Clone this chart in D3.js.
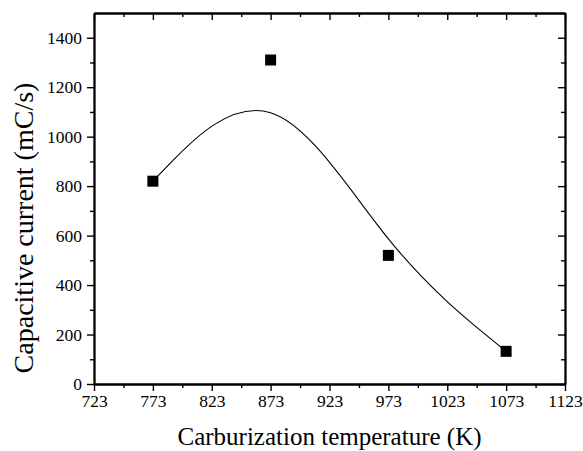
<!DOCTYPE html>
<html>
<head>
<meta charset="utf-8">
<script src="https://cdn.jsdelivr.net/npm/d3@7"></script>
<style>
  body { margin: 0; background: #fff; }
  svg text { font-family: "Liberation Serif", "Times New Roman", serif; fill: #000; }
  .axis path, .axis line { stroke: #000; }
</style>
</head>
<body>
<div id="chart"></div>
<script>
// data
var temps = [773, 873, 973, 1073];
var current = [820, 1310, 520, 132];

var xMajor = [723, 773, 823, 873, 923, 973, 1023, 1073, 1123];
var xMinor = [748, 798, 848, 898, 948, 998, 1048, 1098];
var yMajor = [0, 200, 400, 600, 800, 1000, 1200, 1400];
var yMinor = [100, 300, 500, 700, 900, 1100, 1300];

var xTitle = "Carburization temperature (K)";
var yTitle = "Capacitive current (mC/s)";

var W = 583, H = 451;
var margin = { top: 13, right: 18, bottom: 67, left: 94 };
var width = W - margin.left - margin.right,
    height = H - margin.top - margin.bottom;

var svg = d3.select("#chart").append("svg")
  .attr("width", W)
  .attr("height", H)
  .append("g")
  .attr("transform", "translate(" + margin.left + "," + margin.top + ")");

var x = d3.scaleLinear().domain([723, 1123]).range([0, width]);
var y = d3.scaleLinear().domain([0, 1500]).range([height, 0]);

// smoothed curve (B-spline through the points)
var line = d3.line()
  .x(function(d, i) { return x(temps[i]); })
  .y(function(d) { return y(d); })
  .curve(d3.curveBasis);

svg.append("path")
  .datum(current)
  .attr("fill", "none")
  .attr("stroke", "#000")
  .attr("stroke-width", 1.1)
  .attr("d", line);

// square markers
var sz = 11;
svg.selectAll("rect.pt")
  .data(current)
  .enter().append("rect")
  .attr("class", "pt")
  .attr("x", function(d, i) { return x(temps[i]) - sz / 2; })
  .attr("y", function(d) { return y(d) - sz / 2; })
  .attr("width", sz)
  .attr("height", sz)
  .attr("fill", "#000");

// bottom axis
var xAxis = d3.axisBottom(x).tickValues(xMajor).tickFormat(d3.format("d"))
  .tickSizeInner(7).tickSizeOuter(0).tickPadding(4);
var gx = svg.append("g")
  .attr("class", "axis")
  .attr("transform", "translate(0," + height + ")")
  .call(xAxis);

svg.append("g")
  .attr("class", "axis minor")
  .attr("transform", "translate(0," + height + ")")
  .call(d3.axisBottom(x).tickValues(xMinor).tickFormat("").tickSizeInner(4).tickSizeOuter(0));

// top axis, ticks inward
svg.append("g")
  .attr("class", "axis")
  .call(d3.axisTop(x).tickValues(xMajor).tickFormat("").tickSizeInner(-7).tickSizeOuter(0));
svg.append("g")
  .attr("class", "axis")
  .call(d3.axisTop(x).tickValues(xMinor).tickFormat("").tickSizeInner(-4).tickSizeOuter(0));

// left axis
var yAxis = d3.axisLeft(y).tickValues(yMajor).tickFormat(d3.format("d"))
  .tickSizeInner(7).tickSizeOuter(0).tickPadding(5);
var gy = svg.append("g")
  .attr("class", "axis")
  .call(yAxis);

svg.append("g")
  .attr("class", "axis")
  .call(d3.axisLeft(y).tickValues(yMinor).tickFormat("").tickSizeInner(4).tickSizeOuter(0));

// right axis, ticks inward
svg.append("g")
  .attr("class", "axis")
  .attr("transform", "translate(" + width + ",0)")
  .call(d3.axisRight(y).tickValues(yMajor).tickFormat("").tickSizeInner(-7).tickSizeOuter(0));
svg.append("g")
  .attr("class", "axis")
  .attr("transform", "translate(" + width + ",0)")
  .call(d3.axisRight(y).tickValues(yMinor).tickFormat("").tickSizeInner(-4).tickSizeOuter(0));

svg.selectAll(".axis path").attr("stroke-width", 1.8);
svg.selectAll(".axis line").attr("stroke-width", 1.4);
svg.selectAll(".axis")
  .attr("font-family", null)
  .attr("font-size", null);
svg.selectAll(".axis text")
  .style("font-family", "'Liberation Serif', serif")
  .style("font-size", "17.5px")
  .attr("fill", "#000");

// axis titles
svg.append("text")
  .attr("x", width / 2)
  .attr("y", height + 61)
  .attr("text-anchor", "middle")
  .style("font-size", "25px")
  .text(xTitle);

svg.append("text")
  .attr("transform", "translate(" + (33 - margin.left) + "," + (228 - margin.top) + ") rotate(-90)")
  .attr("text-anchor", "middle")
  .style("font-size", "28px")
  .text(yTitle);
</script>
</body>
</html>
